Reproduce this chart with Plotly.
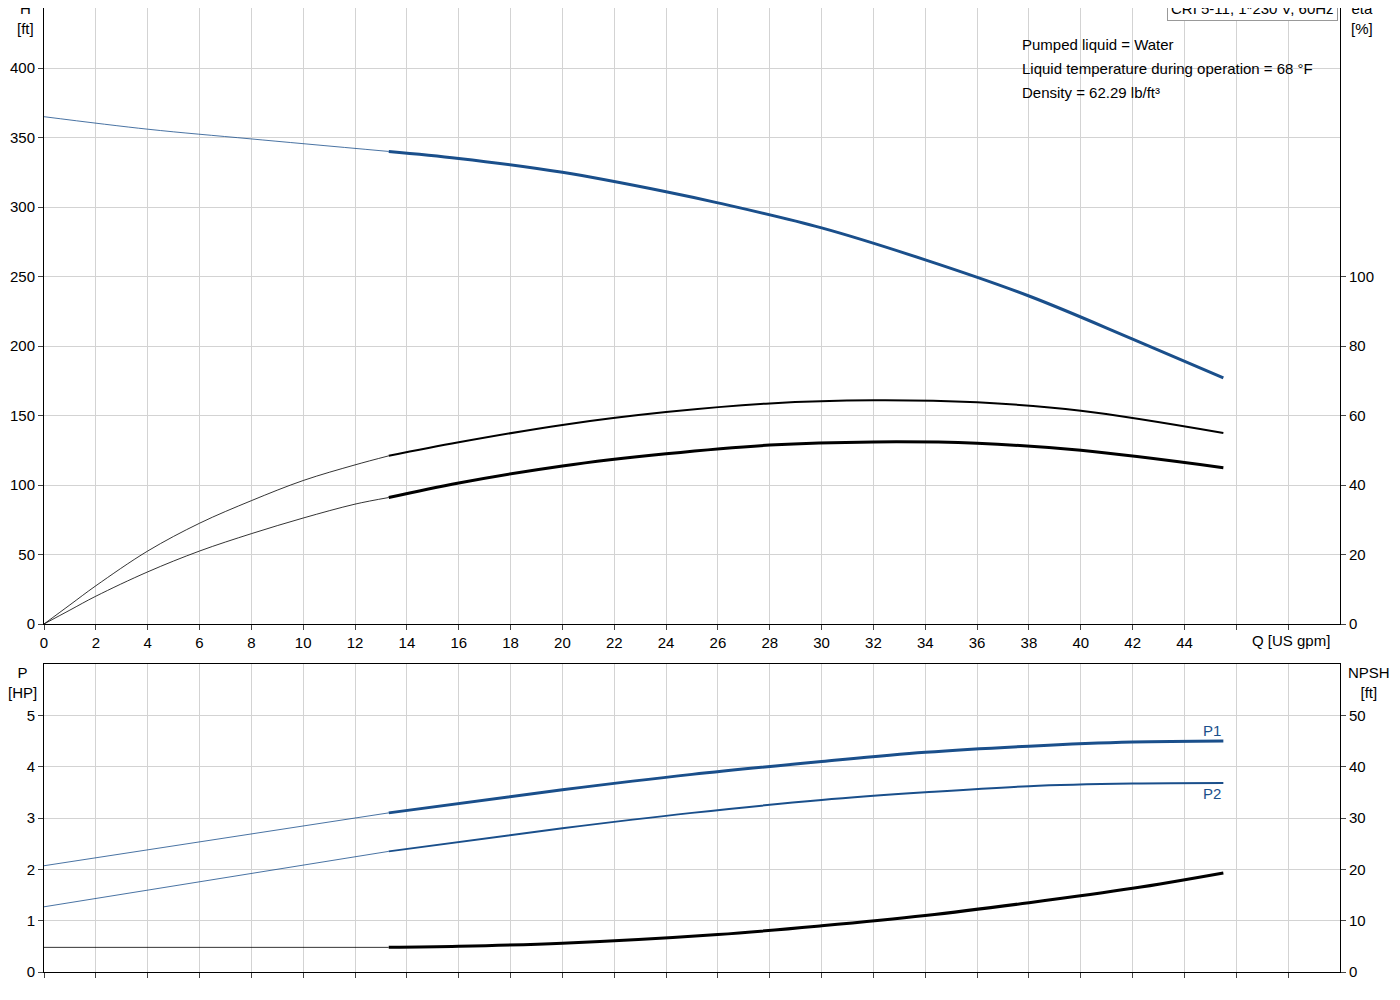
import plotly.graph_objects as go

# H curve
q_h_thin = [0, 4, 8, 13.3]
h_thin = [365, 356, 349, 340]
q_h = [13.3, 16, 20, 24, 26, 30, 34, 38, 42, 45.5]
h_thick = [340, 335, 325, 311, 303, 285, 262, 236, 205, 177]

# eta curves
q_eta_thin = [0, 1, 2, 4, 6, 8, 10, 12, 13.3]
eta1_thin = [0, 5.5, 11, 21, 29, 35.5, 41.3, 45.8, 48.4]
eta2_thin = [0, 4, 8, 15, 21, 26, 30.5, 34.5, 36.4]
q_eta = [13.3, 16, 20, 24, 28, 32, 36, 40, 45.5]
eta1_thick = [48.4, 52.3, 57.3, 61, 63.5, 64.4, 63.8, 61.4, 55]
eta2_thick = [36.4, 40.6, 45.5, 49, 51.5, 52.4, 52, 50, 45]

# Power
q_p_thin = [0, 13.3]
p1_thin = [2.07, 3.1]
p2_thin = [1.27, 2.35]
q_p = [13.3, 20, 25, 30, 34, 38, 42, 45.5]
p1_thick = [3.1, 3.55, 3.85, 4.1, 4.28, 4.4, 4.48, 4.5]
p2_thick = [2.35, 2.8, 3.1, 3.35, 3.5, 3.62, 3.67, 3.68]

# NPSH
q_n_thin = [0, 13.3]
npsh_thin = [4.8, 4.8]
q_n = [13.3, 16, 20, 26, 30, 34, 38, 42, 45.5]
npsh_thick = [4.8, 5.0, 5.6, 7.3, 9, 11, 13.5, 16.3, 19.3]

BLUE = "#1a4f8b"
fig = go.Figure()

def add(x, y, color, w, xa, ya):
    fig.add_trace(go.Scatter(x=x, y=y, mode="lines", line=dict(color=color, width=w, shape="spline"),
                             xaxis=xa, yaxis=ya, showlegend=False, hoverinfo="skip"))

add(q_h_thin, h_thin, BLUE, 0.8, "x", "y")
add(q_h, h_thick, BLUE, 3, "x", "y")
add(q_eta_thin, eta1_thin, "black", 0.8, "x", "y2")
add(q_eta, eta1_thick, "black", 2, "x", "y2")
add(q_eta_thin, eta2_thin, "black", 0.8, "x", "y2")
add(q_eta, eta2_thick, "black", 3, "x", "y2")
add(q_p_thin, p1_thin, BLUE, 0.8, "x2", "y3")
add(q_p, p1_thick, BLUE, 3, "x2", "y3")
add(q_p_thin, p2_thin, BLUE, 0.8, "x2", "y3")
add(q_p, p2_thick, BLUE, 2, "x2", "y3")
add(q_n_thin, npsh_thin, "black", 0.8, "x2", "y4")
add(q_n, npsh_thick, "black", 3, "x2", "y4")

grid = "#d3d3d3"
F = dict(family="Liberation Sans, Arial", size=15, color="black")
common = dict(showgrid=True, gridcolor=grid, zeroline=False, showline=True, linecolor="black",
              ticks="outside", ticklen=5, tickfont=F)
PH = 964
top_dom = [(PH - 616) / PH, 1]
bot_dom = [0, (PH - 656) / PH]
fig.update_layout(
    width=1400, height=1000, paper_bgcolor="white", plot_bgcolor="white",
    margin=dict(l=36, r=68, t=0, b=36), font=F,
    xaxis=dict(range=[0, 50], tickvals=list(range(0, 45, 2)), domain=[0, 1], anchor="y",
               minor=dict(tickvals=[46, 48], showgrid=True, gridcolor=grid, ticks="outside", ticklen=5),
               mirror=True, **common),
    yaxis=dict(range=[0, 443.2], tickvals=list(range(0, 401, 50)), domain=top_dom, **common),
    yaxis2=dict(range=[0, 177.3], tickvals=list(range(0, 101, 20)), overlaying="y", side="right",
                showgrid=False, zeroline=False, showline=True, linecolor="black", ticks="outside",
                ticklen=5, tickfont=F),
    xaxis2=dict(range=[0, 50], tickvals=list(range(0, 49, 2)), showticklabels=False, domain=[0, 1],
                anchor="y3", mirror=True, **common),
    yaxis3=dict(range=[0, 6], tickvals=list(range(0, 6)), domain=bot_dom, anchor="x2", **common),
    yaxis4=dict(range=[0, 60], tickvals=list(range(0, 51, 10)), overlaying="y3", side="right",
                anchor="x2", showgrid=False, zeroline=False, showline=True, linecolor="black",
                ticks="outside", ticklen=5, tickfont=F),
)

def ann(x, y, text, xanchor="left", yanchor="top", color="black", **kw):
    fig.add_annotation(x=x, y=y, xref="paper", yref="paper", text=text, showarrow=False,
                       xanchor=xanchor, yanchor=yanchor, font=dict(F, color=color), align="center", **kw)

def px(xp): return (xp - 44) / 1296
def py(yp): return 1 - (yp - 8) / PH

ann(px(25), py(-2), "H<br>[ft]", xanchor="center")
ann(px(1362), py(-2), "eta<br>[%]", xanchor="center")
ann(px(1250), py(630), "Q [US gpm]")
ann(px(22), py(662), "P<br>[HP]", xanchor="center")
ann(px(1369), py(662), "NPSH<br>[ft]", xanchor="center")
ann(px(1338), py(-4), "CRI 5-11, 1*230 V, 60Hz", xanchor="right", bordercolor="#999", borderwidth=1,
    borderpad=3, bgcolor="white")
ann(px(1020), py(34), "Pumped liquid = Water")
ann(px(1020), py(58), "Liquid temperature during operation = 68 °F")
ann(px(1020), py(82), "Density = 62.29 lb/ft³")
fig.add_annotation(x=45.5, y=4.5, xref="x2", yref="y3", text="P1", showarrow=False, xanchor="right",
                   yanchor="bottom", font=dict(F, color=BLUE))
fig.add_annotation(x=45.5, y=3.68, xref="x2", yref="y3", text="P2", showarrow=False, xanchor="right",
                   yanchor="top", font=dict(F, color=BLUE))

fig.write_html("out.html")
